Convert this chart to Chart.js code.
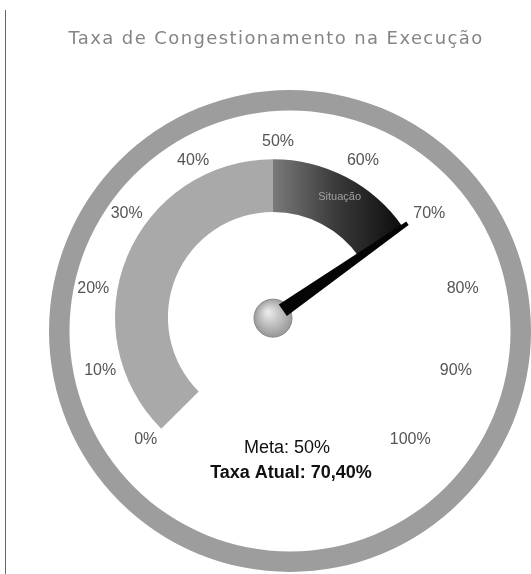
<!DOCTYPE html>
<html>
<head>
<meta charset="utf-8">
<script src="https://cdn.jsdelivr.net/npm/chart.js@4.4.0/dist/chart.umd.min.js"></script>
<style>
  html, body { margin: 0; padding: 0; background: #fff; }
  #page { position: relative; width: 531px; height: 574px; overflow: hidden; }
  #page canvas { position: absolute; left: 0; top: 0; }
  #edge { position: absolute; left: 5px; top: 10px; width: 1px; height: 564px; background: #666; }
  #title {
    position: absolute; left: 0; top: 27px; width: 552px; text-align: center;
    font-family: "DejaVu Sans", sans-serif; font-size: 18px; color: #858585; letter-spacing: 1.4px;
  }
</style>
</head>
<body>
<div id="page">
  <div id="edge"></div>
  <canvas id="ring" width="531" height="574"></canvas>
  <canvas id="gauge" width="531" height="574"></canvas>
  <div id="title">Taxa de Congestionamento na Execução</div>
</div>
<script>
const segmentLabels = ['Meta', 'Situação', 'Restante'];
const meta = 50;
const currentRate = 70.4;
const scaleMax = 100;
const tickValues = [0, 10, 20, 30, 40, 50, 60, 70, 80, 90, 100];
const tickLabels = ['0%', '10%', '20%', '30%', '40%', '50%', '60%', '70%', '80%', '90%', '100%'];

const segmentValues = [meta, currentRate - meta, scaleMax - currentRate];

// outer decorative ring
new Chart(document.getElementById('ring'), {
  type: 'doughnut',
  data: {
    labels: ['anel'],
    datasets: [{ data: [1], backgroundColor: '#9d9d9d', borderWidth: 0 }]
  },
  options: {
    responsive: false,
    animation: false,
    events: [],
    cutout: '91.5%',
    radius: 241,
    layout: { padding: { left: 49, top: 88 } },
    plugins: { legend: { display: false }, tooltip: { enabled: false } }
  }
});

const gaugePlugin = {
  id: 'gaugeDecor',
  afterDatasetsDraw(chart) {
    const ctx = chart.ctx;
    const arcs = chart.getDatasetMeta(0).data;
    const cx = arcs[0].x, cy = arcs[0].y;
    const R = arcs[0].outerRadius;
    const start = arcs[0].startAngle;
    const end = arcs[arcs.length - 1].endAngle;
    const angleOf = v => start + (v / scaleMax) * (end - start);

    ctx.save();
    // tick labels (slightly oval placement, like the original)
    ctx.font = '16px "Liberation Sans", Arial, sans-serif';
    ctx.fillStyle = '#555';
    ctx.textAlign = 'center';
    ctx.textBaseline = 'middle';
    tickValues.forEach((v, i) => {
      const a = angleOf(v);
      ctx.fillText(tickLabels[i], cx + 5 + Math.cos(a) * (R + 29), cy - 1 + Math.sin(a) * (R + 17));
    });

    // label inside the dark segment
    const seg = arcs[1];
    const mid = (seg.startAngle + seg.endAngle) / 2;
    const rm = (seg.innerRadius + seg.outerRadius) / 2 + 4;
    ctx.font = '11px "Liberation Sans", Arial, sans-serif';
    ctx.fillStyle = '#a0a0a0';
    ctx.fillText(segmentLabels[1], cx + Math.cos(mid) * rm + 4, cy + Math.sin(mid) * rm);

    // hub
    const hub = ctx.createRadialGradient(cx - 5, cy - 5, 2, cx, cy, 19);
    hub.addColorStop(0, '#e6e6e6');
    hub.addColorStop(1, '#9a9a9a');
    ctx.beginPath();
    ctx.arc(cx, cy + 1, 19, 0, Math.PI * 2);
    ctx.fillStyle = hub;
    ctx.fill();
    ctx.lineWidth = 1;
    ctx.strokeStyle = '#888';
    ctx.stroke();

    // needle
    const a = angleOf(currentRate);
    const len = R + 6;
    const nx = Math.cos(a), ny = Math.sin(a);
    const px = -ny, py = nx;
    const base = 12;
    ctx.beginPath();
    ctx.moveTo(cx + nx * base + px * 7, cy + ny * base + py * 7);
    ctx.lineTo(cx + nx * len + px * 2, cy + ny * len + py * 2);
    ctx.lineTo(cx + nx * len - px * 2, cy + ny * len - py * 2);
    ctx.lineTo(cx + nx * base - px * 7, cy + ny * base - py * 7);
    ctx.closePath();
    ctx.fillStyle = '#050505';
    ctx.fill();

    // meta and current rate texts
    ctx.fillStyle = '#111';
    ctx.font = '18px "Liberation Sans", Arial, sans-serif';
    ctx.fillText('Meta: ' + meta + '%', cx + 14, cy + 131);
    ctx.font = 'bold 18px "Liberation Sans", Arial, sans-serif';
    ctx.fillText('Taxa Atual: ' + currentRate.toFixed(2).replace('.', ',') + '%', cx + 18, cy + 156);
    ctx.restore();
  }
};

function segmentFill(context) {
  const i = context.dataIndex;
  if (i === 0) return '#a9a9a9';
  if (i === 2) return 'rgba(0,0,0,0)';
  const chart = context.chart;
  const area = chart.chartArea;
  if (!area) return '#333';
  const cx = (area.left + area.right) / 2;
  const g = chart.ctx.createLinearGradient(cx, 0, cx + 140, 0);
  g.addColorStop(0, '#7a7a7a');
  g.addColorStop(0.45, '#3a3a3a');
  g.addColorStop(1, '#050505');
  return g;
}

new Chart(document.getElementById('gauge'), {
  type: 'doughnut',
  data: {
    labels: segmentLabels,
    datasets: [{
      data: segmentValues,
      backgroundColor: segmentFill,
      borderWidth: 0
    }]
  },
  options: {
    responsive: false,
    animation: false,
    events: [],
    rotation: -135,
    circumference: 270,
    cutout: '66.5%',
    radius: 158,
    layout: { padding: { left: 15, top: 14 } },
    plugins: { legend: { display: false }, tooltip: { enabled: false } }
  },
  plugins: [gaugePlugin]
});
</script>
</body>
</html>
